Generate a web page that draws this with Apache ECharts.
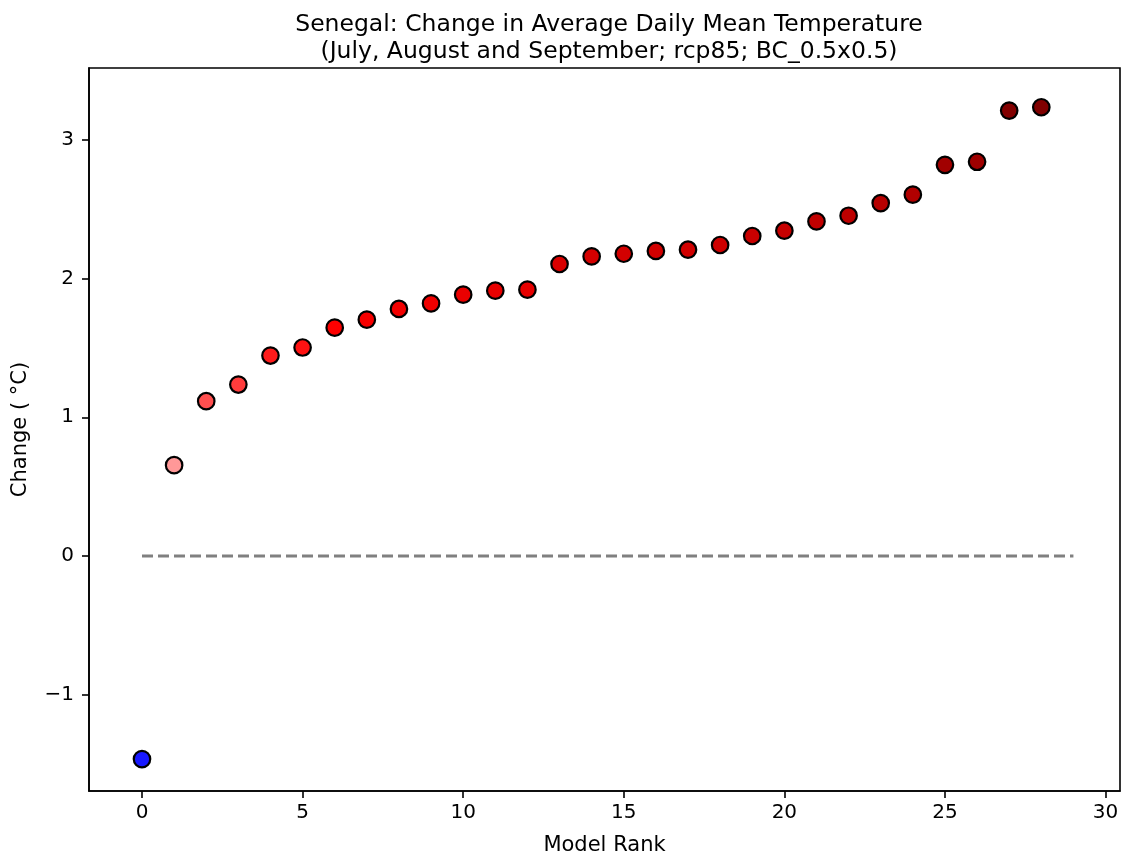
<!DOCTYPE html>
<html>
<head>
<meta charset="utf-8">
<script src="https://cdn.jsdelivr.net/npm/echarts@6/dist/echarts.min.js"></script>
<style>
  html, body { margin: 0; padding: 0; background: #fff; }
  #chart { width: 1123px; height: 861px; }
</style>
</head>
<body>
<div id="chart"></div>
<script>
// Ranked model changes in daily mean temperature (°C)
const modelRank = [0,1,2,3,4,5,6,7,8,9,10,11,12,13,14,15,16,17,18,19,20,21,22,23,24,25,26,27,28];
const tempChange = [-1.464, 0.655, 1.116, 1.236, 1.445, 1.503, 1.646, 1.704, 1.781, 1.821,
  1.884, 1.913, 1.920, 2.105, 2.160, 2.179, 2.199, 2.208, 2.242, 2.307,
  2.345, 2.412, 2.453, 2.544, 2.605, 2.820, 2.842, 3.211, 3.235];
const xTicks = [0, 5, 10, 15, 20, 25, 30];
const yTicks = [-1, 0, 1, 2, 3];
const zeroLineX = [0, 29];

const font = '"DejaVu Sans", sans-serif';
const limit = Math.max(...tempChange.map(Math.abs));

const points = modelRank.map((r, i) => [r, tempChange[i]]);

const chart = echarts.init(document.getElementById('chart'), null, { renderer: 'canvas' });
chart.setOption({
  backgroundColor: '#ffffff',
  animation: false,
  title: {
    text: 'Senegal: Change in Average Daily Mean Temperature\n(July, August and September; rcp85; BC_0.5x0.5)',
    left: 604, top: 6, textAlign: 'center',
    textStyle: { fontFamily: font, fontSize: 23.5, fontWeight: 'normal', color: '#000', lineHeight: 27 }
  },
  grid: {
    left: 89, right: 3, top: 68, bottom: 69, containLabel: false,
    show: true, borderColor: '#000', borderWidth: 1.6, backgroundColor: 'transparent'
  },
  // diverging blue-white-red scale, symmetric about zero
  visualMap: {
    show: false, type: 'continuous', seriesIndex: 1, dimension: 1,
    min: -limit, max: limit,
    inRange: { color: ['#00004d', '#0000ff', '#ffffff', '#ff0000', '#800000'] }
  },
  xAxis: {
    type: 'value', min: -1.65, max: 30.45,
    name: 'Model Rank', nameLocation: 'middle', nameGap: 44,
    nameTextStyle: { fontFamily: font, fontSize: 21, color: '#000' },
    axisLine: { show: true, onZero: false, lineStyle: { color: '#000', width: 1.6 } },
    axisTick: { show: true, length: 7, lineStyle: { color: '#000', width: 1.6 },
      customValues: xTicks },
    axisLabel: { fontFamily: font, fontSize: 20, color: '#000', margin: 12,
      customValues: xTicks, formatter: v => String(v) },
    splitLine: { show: false }
  },
  yAxis: {
    type: 'value', min: -1.694, max: 3.518,
    name: 'Change ( \u00B0C)', nameLocation: 'middle', nameGap: 58,
    nameTextStyle: { fontFamily: font, fontSize: 21, color: '#000' },
    axisLine: { show: true, onZero: false, lineStyle: { color: '#000', width: 1.6 } },
    axisTick: { show: true, length: 7, lineStyle: { color: '#000', width: 1.6 },
      customValues: yTicks },
    axisLabel: { fontFamily: font, fontSize: 20, color: '#000', margin: 15,
      customValues: yTicks, formatter: v => (v < 0 ? '\u2212' + Math.abs(v) : String(v)) },
    splitLine: { show: false }
  },
  series: [
    {
      type: 'line',
      data: zeroLineX.map(x => [x, 0]),
      symbol: 'none', silent: true,
      lineStyle: { color: '#808080', width: 3, type: [11, 5] },
      z: 1
    },
    {
      type: 'scatter',
      data: points,
      symbol: 'circle', symbolSize: 16.5,
      itemStyle: { borderColor: '#000', borderWidth: 2.2, opacity: 1 },
      z: 3
    }
  ]
});
</script>
</body>
</html>
